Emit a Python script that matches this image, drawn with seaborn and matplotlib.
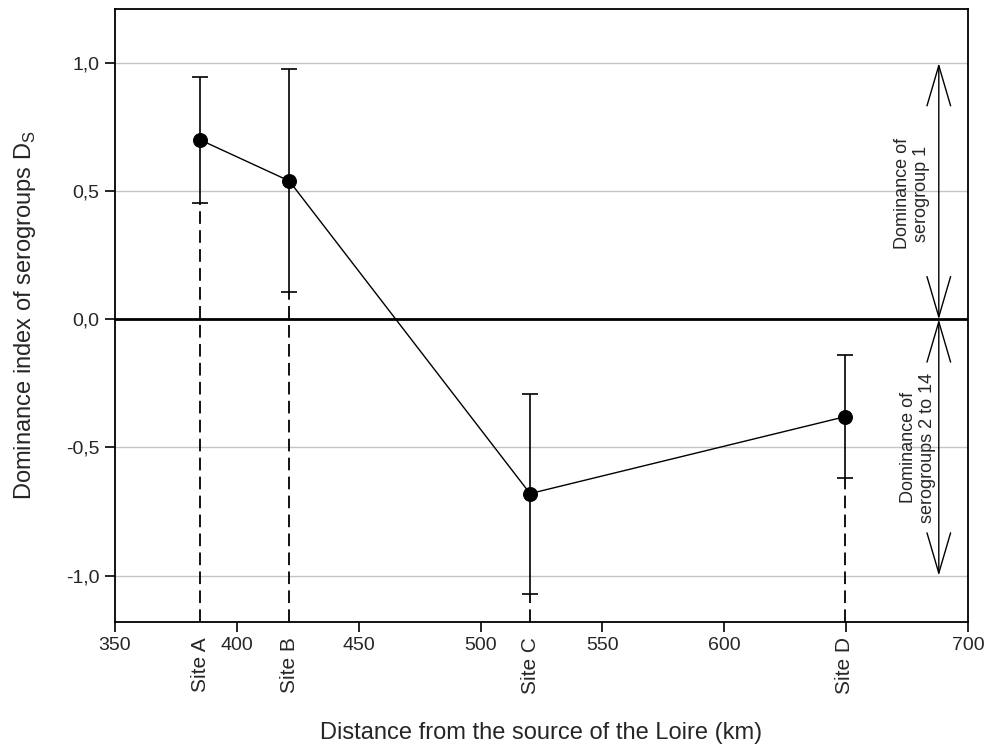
import matplotlib
matplotlib.use("Agg")
import matplotlib.pyplot as plt
import seaborn as sns
import pandas as pd

# valeurs
sites = ["Site A", "Site B", "Site C", "Site D"]
distance_km = [385, 421.5, 520.3, 649.5]
dominance = [0.70, 0.54, -0.68, -0.38]
erreur = [0.245, 0.435, 0.39, 0.24]

x_ticks = [350, 400, 450, 500, 550, 600, 650, 700]
x_tick_labels = ["350", "400", "450", "500", "550", "600", "", "700"]
y_ticks = [-1.0, -0.5, 0.0, 0.5, 1.0]
y_tick_labels = ["-1,0", "-0,5", "0,0", "0,5", "1,0"]

df = pd.DataFrame({"site": sites, "distance": distance_km,
                   "ds": dominance, "err": erreur})

sns.set_style("white")
plt.rcParams["font.family"] = ["Liberation Sans", "DejaVu Sans"]

fig = plt.figure(figsize=(9.88, 7.47), dpi=100)
ax = fig.add_axes([0.1164, 0.1677, 0.8634, 0.8199])

y_bas, y_haut = -1.18, 1.21

# grille horizontale
for y in [-1.0, -0.5, 0.5, 1.0]:
    ax.axhline(y, color="#c4c4c4", lw=1, zorder=0)
ax.axhline(0, color="black", lw=2, zorder=1)

# lignes pointillées sous les barres d'erreur
lower = [d - e for d, e in zip(dominance, erreur)]
ax.vlines(distance_km, y_bas, lower, colors="black", lw=1.3,
          linestyles=(0, (7, 3.5)), zorder=2)

ax.errorbar(df["distance"], df["ds"], yerr=df["err"], fmt="none",
            ecolor="black", elinewidth=1.2, capsize=6, capthick=1.2, zorder=3)
sns.lineplot(data=df, x="distance", y="ds", color="black", lw=1,
             marker="o", markersize=10, markeredgecolor="black", ax=ax, zorder=4)

# flèches de dominance
arrow = dict(arrowstyle="<->,head_length=2.9,head_width=0.85", mutation_scale=10,
             shrinkA=0, shrinkB=0, color="black", lw=1)
ax.annotate("", xy=(688, 1.0), xytext=(688, 0.0), arrowprops=arrow)
ax.annotate("", xy=(688, -1.0), xytext=(688, 0.0), arrowprops=arrow)
ax.text(677, 0.49, "Dominance of\nserogroup 1", rotation=90, ha="center",
        va="center", fontsize=13, linespacing=1.1)
ax.text(679.5, -0.5, "Dominance of\nserogroups 2 to 14", rotation=90, ha="center",
        va="center", fontsize=13, linespacing=1.1)

ax.set_xlim(350, 700)
ax.set_ylim(y_bas, y_haut)
ax.set_xticks(x_ticks)
ax.set_xticklabels(x_tick_labels)
ax.set_yticks(y_ticks)
ax.set_yticklabels(y_tick_labels)
ax.set_xticks(distance_km, minor=True)
ax.set_xticklabels(sites, minor=True, rotation=90, va="top")
ax.tick_params(axis="both", which="major", direction="out", length=7, width=1.2,
               labelsize=14, pad=4, left=True, bottom=True, color="black")
ax.tick_params(axis="x", which="minor", length=0, labelsize=15, pad=11)

for s in ax.spines.values():
    s.set_color("black")
    s.set_linewidth(1.3)

ax.set_xlabel("Distance from the source of the Loire (km)", fontsize=17, labelpad=20)
ax.set_ylabel(r"Dominance index of serogroups D$_\mathregular{S}$", fontsize=17, labelpad=20)

fig.savefig("out.png", dpi=100)
